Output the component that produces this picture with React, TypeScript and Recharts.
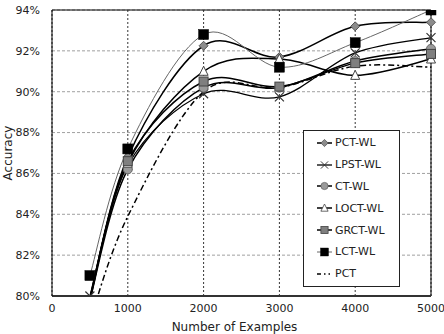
import React from 'react';
import { LineChart, Line, XAxis, YAxis, CartesianGrid, ReferenceLine, Legend } from 'recharts';

// training set sizes and accuracy (%) per method
const examples = [500, 1000, 2000, 3000, 4000, 5000];
const pctWl = [79.9, 86.8, 92.25, 91.7, 93.2, 93.4];
const lpstWl = [80.0, 86.4, 89.9, 89.75, 91.9, 92.65];
const ctWl = [79.8, 86.2, 90.2, 90.2, 91.5, 92.1];
const loctWl = [79.9, 86.5, 91.0, 91.6, 90.8, 91.6];
const grctWl = [79.8, 86.6, 90.5, 90.25, 91.4, 91.85];
const lctWl = [81.0, 87.2, 92.8, 91.2, 92.4, 94.0];
const pct = [78.8, 83.9, 90.0, 90.2, 91.25, 91.2];

const xTicks = [0, 1000, 2000, 3000, 4000, 5000];
const yTicks = [80, 82, 84, 86, 88, 90, 92, 94];

const data = examples.map((n, i) => ({
  n,
  pctWl: pctWl[i],
  lpstWl: lpstWl[i],
  ctWl: ctWl[i],
  loctWl: loctWl[i],
  grctWl: grctWl[i],
  lctWl: lctWl[i],
  pct: pct[i],
}));

type MarkerKind = 'diamond' | 'cross' | 'circle' | 'triangle' | 'graySquare' | 'blackSquare' | 'none';

const series: { key: string; name: string; marker: MarkerKind; stroke: string; width: number; dash?: string }[] = [
  { key: 'pctWl', name: 'PCT-WL', marker: 'diamond', stroke: '#000', width: 1.5 },
  { key: 'lpstWl', name: 'LPST-WL', marker: 'cross', stroke: '#000', width: 1.3 },
  { key: 'ctWl', name: 'CT-WL', marker: 'circle', stroke: '#000', width: 1.5 },
  { key: 'loctWl', name: 'LOCT-WL', marker: 'triangle', stroke: '#000', width: 1.5 },
  { key: 'grctWl', name: 'GRCT-WL', marker: 'graySquare', stroke: '#000', width: 1.5 },
  { key: 'lctWl', name: 'LCT-WL', marker: 'blackSquare', stroke: '#666', width: 1 },
  { key: 'pct', name: 'PCT', marker: 'none', stroke: '#000', width: 1.5, dash: '6 3 2 3' },
];

// Catmull-Rom style smoothing (like spreadsheet "smoothed line")
const smoothCurve = (context: any) => {
  let pts: number[][] = [];
  return {
    areaStart() {},
    areaEnd() {},
    lineStart() {
      pts = [];
    },
    point(x: number, y: number) {
      pts.push([+x, +y]);
    },
    lineEnd() {
      const n = pts.length;
      if (!n) return;
      context.moveTo(pts[0][0], pts[0][1]);
      for (let i = 0; i < n - 1; i++) {
        const p0 = pts[Math.max(i - 1, 0)];
        const p1 = pts[i];
        const p2 = pts[i + 1];
        const p3 = pts[Math.min(i + 2, n - 1)];
        context.bezierCurveTo(
          p1[0] + (p2[0] - p0[0]) / 6,
          p1[1] + (p2[1] - p0[1]) / 6,
          p2[0] - (p3[0] - p1[0]) / 6,
          p2[1] - (p3[1] - p1[1]) / 6,
          p2[0],
          p2[1],
        );
      }
    },
  };
};

const drawMarker = (kind: MarkerKind, cx: number, cy: number) => {
  const h = 4.5;
  switch (kind) {
    case 'diamond':
      return (
        <polygon
          points={`${cx},${cy - h} ${cx + h},${cy} ${cx},${cy + h} ${cx - h},${cy}`}
          fill="#8c8c8c"
          stroke="#555"
          strokeWidth={1}
        />
      );
    case 'cross':
      return (
        <path
          d={`M${cx - h},${cy - h}L${cx + h},${cy + h}M${cx - h},${cy + h}L${cx + h},${cy - h}`}
          stroke="#333"
          strokeWidth={1.2}
          fill="none"
        />
      );
    case 'circle':
      return <circle cx={cx} cy={cy} r={h} fill="#9a9a9a" stroke="#666" strokeWidth={1} />;
    case 'triangle':
      return (
        <polygon
          points={`${cx},${cy - h - 0.5} ${cx + h},${cy + h - 0.5} ${cx - h},${cy + h - 0.5}`}
          fill="#fff"
          stroke="#444"
          strokeWidth={1}
        />
      );
    case 'graySquare':
      return <rect x={cx - h} y={cy - h} width={2 * h} height={2 * h} fill="#7f7f7f" stroke="#444" strokeWidth={1} />;
    case 'blackSquare':
      return <rect x={cx - 5} y={cy - 5} width={10} height={10} fill="#000" stroke="#000" strokeWidth={0.5} />;
    default:
      return null;
  }
};

const makeDot = (kind: MarkerKind) => (props: any) => {
  const { cx, cy, value, index } = props;
  const key = `${kind}-${index}`;
  if (kind === 'none' || cx == null || cy == null || value < 80) return <g key={key} />;
  return <g key={key}>{drawMarker(kind, cx, cy)}</g>;
};

const LegendBox = () => (
  <div
    style={{
      border: '1px solid #222',
      background: '#fff',
      width: 95,
      padding: '1px 0',
      fontSize: 11,
      color: '#222',
    }}
  >
    {series.map((s) => (
      <div key={s.key} style={{ display: 'flex', alignItems: 'center', height: 21.8 }}>
        <svg width={20} height={12} style={{ marginLeft: 11, display: 'block' }}>
          {s.marker === 'none' ? (
            <line x1={2} y1={6} x2={17} y2={6} stroke="#000" strokeWidth={1.3} strokeDasharray="4 3 1.5 3 1.5 3" />
          ) : (
            <line x1={2} y1={6} x2={17} y2={6} stroke={s.stroke} strokeWidth={s.width} />
          )}
          {s.marker !== 'none' && (
            <g transform="translate(9.5,6) scale(0.8) translate(-9.5,-6)">{drawMarker(s.marker, 9.5, 6)}</g>
          )}
        </svg>
        <span>{s.name}</span>
      </div>
    ))}
  </div>
);

export default function App() {
  return (
    <div
      style={{
        position: 'absolute',
        left: 0,
        top: 0,
        width: 444,
        height: 334,
        background: '#fff',
        fontFamily: '"DejaVu Sans", Verdana, sans-serif',
      }}
    >
      <LineChart width={444} height={334} data={data} margin={{ top: 10, right: 13, left: 12, bottom: 0 }}>
        <CartesianGrid horizontal={false} stroke="#000" strokeDasharray="2 2" strokeWidth={0.8} />
        <CartesianGrid vertical={false} stroke="#888" strokeDasharray="3 2" strokeWidth={0.8} />
        <XAxis
          dataKey="n"
          type="number"
          domain={[0, 5000]}
          ticks={xTicks}
          tickLine={false}
          axisLine={{ stroke: '#333', strokeWidth: 2 }}
          tick={{ fill: '#222', fontSize: 11 }}
          height={38}
          label={{ value: 'Number of Examples', position: 'insideBottom', offset: 3, dx: -7, fill: '#222', fontSize: 12 }}
        />
        <YAxis
          type="number"
          domain={[80, 94]}
          ticks={yTicks}
          allowDataOverflow
          tickFormatter={(v: number) => `${v}%`}
          tickLine={false}
          tickMargin={6}
          axisLine={{ stroke: '#000', strokeWidth: 1 }}
          tick={{ fill: '#222', fontSize: 11 }}
          width={40}
          label={{
            value: 'Accuracy',
            angle: -90,
            position: 'insideLeft',
            offset: -4,
            fill: '#222',
            fontSize: 12,
            style: { textAnchor: 'middle' },
          }}
        />
        <ReferenceLine y={94} stroke="#000" strokeWidth={1} />
        <ReferenceLine x={5000} stroke="#000" strokeWidth={1} />
        {series.map((s) => (
          <Line
            key={s.key}
            dataKey={s.key}
            name={s.name}
            type={smoothCurve as any}
            stroke={s.stroke}
            strokeWidth={s.width}
            strokeDasharray={s.dash}
            dot={makeDot(s.marker)}
            activeDot={false}
            isAnimationActive={false}
          />
        ))}
        <Legend
          layout="vertical"
          align="center"
          verticalAlign="middle"
          content={() => <LegendBox />}
          wrapperStyle={{ left: 303, top: 130, right: 'auto', bottom: 'auto', width: 'auto', height: 'auto' }}
        />
      </LineChart>
    </div>
  );
}
